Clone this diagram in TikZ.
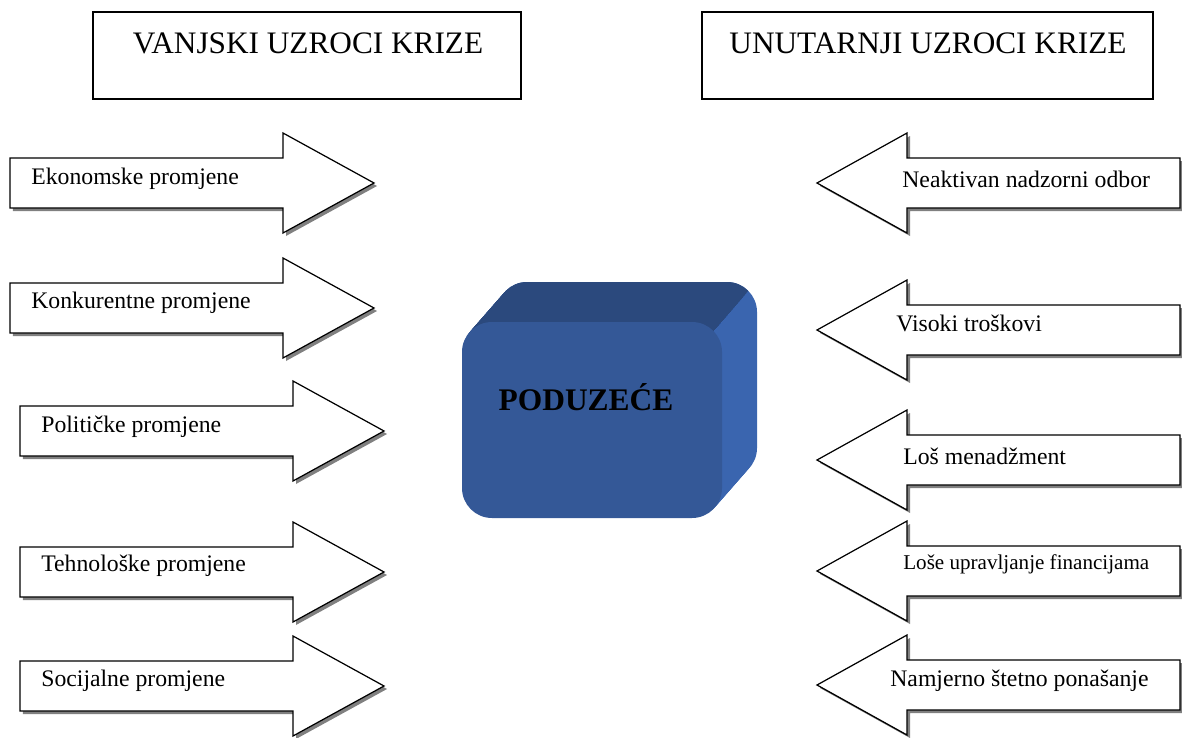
\documentclass[tikz,border=0pt]{standalone}
\usepackage{fontspec}
\setmainfont{Liberation Serif}
\usetikzlibrary{shadows}
\definecolor{frontblue}{RGB}{52,88,151}
\definecolor{topblue}{RGB}{43,73,125}
\definecolor{sideblue}{RGB}{58,101,175}

\tikzset{
  titlebox/.style={draw, line width=0.9pt},
  titletext/.style={inner sep=0pt, font=\fontsize{17.8}{20}\selectfont},
  causearrow/.style={draw, line width=0.7pt, fill=white,
    drop shadow={shadow xshift=0.06cm, shadow yshift=-0.06cm, fill=black!50, opacity=1}},
  causetext/.style={anchor=west, inner sep=0pt, font=\fontsize{13.5}{15}\selectfont},
  blockface/.style={rounded corners=0.6cm},
}

\begin{document}
\begin{tikzpicture}[x=0.02cm, y=-0.02cm]
\useasboundingbox (0,0) rectangle (1182,737);

% title boxes
\draw[titlebox] (93,12) rectangle (521,99);
\draw[titlebox] (702,12) rectangle (1153,99);
\node[titletext] (vanjski) at (308,43) {VANJSKI UZROCI KRIZE};
\node[titletext] (unutarnji) at (928,43) {UNUTARNJI UZROCI KRIZE};

% external causes (pointing right)
\draw[causearrow] (10,158) -- (283,158) -- (283,133) -- (374,183) -- (283,233) -- (283,208) -- (10,208) -- cycle;
\draw[causearrow] (10,283) -- (283,283) -- (283,258) -- (374,308) -- (283,358) -- (283,333) -- (10,333) -- cycle;
\draw[causearrow] (20,406) -- (293,406) -- (293,381) -- (384,431) -- (293,481) -- (293,456) -- (20,456) -- cycle;
\draw[causearrow] (20,547) -- (293,547) -- (293,522) -- (384,572) -- (293,622) -- (293,597) -- (20,597) -- cycle;
\draw[causearrow] (20,661) -- (293,661) -- (293,636) -- (384,686) -- (293,736) -- (293,711) -- (20,711) -- cycle;
\node[causetext] (ekonomske) at (31,179) {Ekonomske promjene};
\node[causetext] (konkurentne) at (31,303) {Konkurentne promjene};
\node[causetext] (politicke) at (41,427) {Političke promjene};
\node[causetext] (tehnoloske) at (41,566) {Tehnološke promjene};
\node[causetext] (socijalne) at (41,681) {Socijalne promjene};

% internal causes (pointing left)
\draw[causearrow] (1180,158) -- (907,158) -- (907,133) -- (817,183) -- (907,233) -- (907,208) -- (1180,208) -- cycle;
\draw[causearrow] (1180,305) -- (907,305) -- (907,280) -- (817,330) -- (907,380) -- (907,355) -- (1180,355) -- cycle;
\draw[causearrow] (1180,435) -- (907,435) -- (907,410) -- (817,460) -- (907,510) -- (907,485) -- (1180,485) -- cycle;
\draw[causearrow] (1180,546) -- (907,546) -- (907,521) -- (817,571) -- (907,621) -- (907,596) -- (1180,596) -- cycle;
\draw[causearrow] (1180,660) -- (907,660) -- (907,635) -- (817,685) -- (907,735) -- (907,710) -- (1180,710) -- cycle;
\node[causetext] (neaktivan) at (902,179) {Neaktivan nadzorni odbor};
\node[causetext] (visoki) at (896,323) {Visoki troškovi};
\node[causetext] (menadzment) at (903,456) {Loš menadžment};
\node[causetext, font=\fontsize{12}{14}\selectfont] (financije) at (903,564) {Loše upravljanje financijama};
\node[causetext] (namjerno) at (890,681) {Namjerno štetno ponašanje};

% the company block
\foreach \k in {20,19,...,1}
  \fill[sideblue, blockface, shift={(1.75*\k,-2*\k)}] (462,322) rectangle (722,518);
\begin{scope}
\clip (888,131) -- (503,571) -- (300,571) -- (300,131) -- cycle;
\foreach \k in {20,19,...,1}
  \fill[topblue, blockface, shift={(1.75*\k,-2*\k)}] (462,322) rectangle (722,518);
\end{scope}
\fill[frontblue, blockface] (462,322) rectangle (722,518);
\node[font=\fontsize{17.9}{20}\selectfont\bfseries] (poduzece) at (586,397) {PODUZEĆE};
\end{tikzpicture}
\end{document}
